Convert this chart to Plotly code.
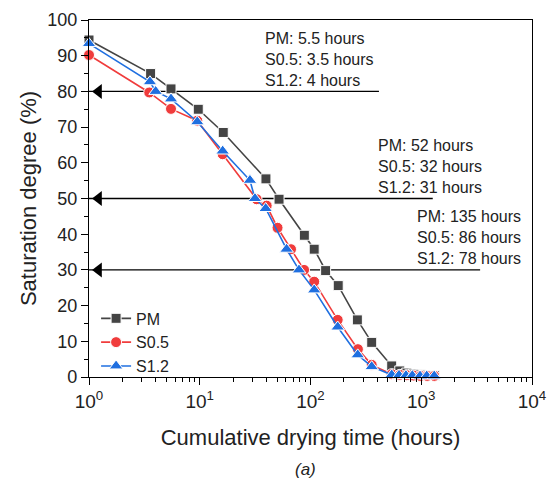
import plotly.graph_objects as go
import math

# ---- data ----
pm_x = [1, 3.6, 5.5, 9.7, 16.3, 39.6, 52, 88, 108, 137, 178, 265, 357, 541, 640, 740, 850, 980, 1130, 1310]
pm_y = [94.4, 85, 80.7, 75, 68.5, 55.5, 49.8, 39.7, 35.8, 29.8, 25.6, 16, 9.7, 3.1, 1.7, 1.1, 0.8, 0.6, 0.5, 0.4]

s05_x = [1, 3.5, 5.5, 9.5, 16.1, 32.6, 40.2, 50.4, 66.7, 87.5, 108, 176, 268, 357, 541, 640, 740, 850, 980, 1130, 1310]
s05_y = [90.2, 79.7, 75.1, 71.8, 62.4, 49.8, 48, 41.8, 35.8, 30, 26.7, 16, 7.8, 3.4, 0.8, 0.6, 0.5, 0.4, 0.3, 0.3, 0.3]

s12_x = [1, 3.55, 4, 5.5, 9.5, 16.1, 28.4, 31.5, 39.4, 60.8, 78.7, 108, 176, 267, 357, 541, 630, 728, 830, 975, 1120, 1310]
s12_y = [93.4, 82.7, 80, 77.9, 71.5, 63.3, 55.1, 50, 47.2, 35.8, 30, 24.4, 14, 6.2, 2.9, 0.6, 0.5, 0.4, 0.4, 0.3, 0.3, 0.3]

series_names = ["PM", "S0.5", "S1.2"]

# horizontal reference arrows (saturation level, right end in hours)
arrow_levels = [80, 50, 30]
arrow_ends = [415, 1270, 3400]
arrow_tip_x = 1.22

# annotation blocks: left edge (hours) and text lines
block_x = [37.2, 390, 880]
block_lines = [
    ["PM: 5.5 hours", "S0.5: 3.5 hours", "S1.2: 4 hours"],
    ["PM: 52 hours", "S0.5: 32 hours", "S1.2: 31 hours"],
    ["PM: 135 hours", "S0.5: 86 hours", "S1.2: 78 hours"],
]

x_tickvals = [1, 10, 100, 1000, 10000]
x_ticktext = ["10<sup>0</sup>", "10<sup>1</sup>", "10<sup>2</sup>", "10<sup>3</sup>", "10<sup>4</sup>"]

FONT = "Liberation Sans, Arial, sans-serif"
colors = ["#444444", "#F03C3C", "#1F6FE0"]
symbols = ["square", "circle", "triangle-up"]
sizes = [10, 11, 12]

fig = go.Figure()

# arrow lines
for lvl, end in zip(arrow_levels, arrow_ends):
    fig.add_trace(go.Scatter(x=[1, end], y=[lvl, lvl], mode="lines",
                             line=dict(color="black", width=1.3),
                             showlegend=False, hoverinfo="skip", cliponaxis=False))
    fig.add_trace(go.Scatter(x=[arrow_tip_x], y=[lvl], mode="markers",
                             marker=dict(symbol="triangle-left", size=13, color="black"),
                             showlegend=False, hoverinfo="skip"))

for name, xs, ys, c, s, sz in zip(series_names, [pm_x, s05_x, s12_x], [pm_y, s05_y, s12_y], colors, symbols, sizes):
    fig.add_trace(go.Scatter(x=xs, y=ys, mode="lines+markers", name=name,
                             line=dict(color=c, width=1.6), cliponaxis=False,
                             marker=dict(symbol=s, size=sz, color=c,
                                         line=dict(color="white", width=1))))

annotations = []
shifts = [53, 32, 11]
for bx, lines, lvl in zip(block_x, block_lines, arrow_levels):
    for txt, sh in zip(lines, shifts):
        annotations.append(dict(x=math.log10(bx), y=lvl, xref="x", yref="y",
                                text=txt, showarrow=False, xanchor="left",
                                yanchor="middle", yshift=sh,
                                font=dict(family=FONT, size=16, color="#222222")))
annotations.append(dict(x=0.488, y=-0.26, xref="paper", yref="paper", text="<i>(a)</i>",
                        showarrow=False, yanchor="middle",
                        font=dict(family=FONT, size=17, color="#222222")))

fig.update_layout(
    width=548, height=495,
    margin=dict(l=89, r=16, t=20, b=118, autoexpand=False),
    paper_bgcolor="white", plot_bgcolor="white",
    font=dict(family=FONT, color="#222222"),
    annotations=annotations,
    legend=dict(x=0.016, y=-0.018, xanchor="left", yanchor="bottom",
                font=dict(family=FONT, size=16, color="#222222"),
                bgcolor="rgba(0,0,0,0)", tracegroupgap=0, itemwidth=30),
)
fig.update_xaxes(type="log", range=[0, 4], tickvals=x_tickvals, ticktext=x_ticktext,
                 automargin=False,
                 showline=True, linecolor="black", linewidth=1.3, mirror=True,
                 ticks="outside", ticklen=7, tickwidth=1.3, tickcolor="black",
                 minor=dict(ticks="outside", ticklen=4, tickwidth=1, tickcolor="black", dtick="D1"),
                 showgrid=False, zeroline=False,
                 tickfont=dict(family=FONT, size=19, color="#222222"),
                 title=dict(text="Cumulative drying time (hours)", standoff=18,
                            font=dict(family=FONT, size=22, color="#222222")))
fig.update_yaxes(range=[0, 100], dtick=10, automargin=False,
                 showline=True, linecolor="black", linewidth=1.3, mirror=True,
                 ticks="outside", ticklen=7, tickwidth=1.3, tickcolor="black",
                 minor=dict(ticks="outside", ticklen=4, tickwidth=1, tickcolor="black", dtick=5),
                 showgrid=False, zeroline=False,
                 tickfont=dict(family=FONT, size=18, color="#222222"),
                 title=dict(text="Saturation degree (%)", standoff=4,
                            font=dict(family=FONT, size=22, color="#222222")))

fig.write_html("out.html", config={"displayModeBar": False},
               post_script="document.body.style.margin='0';document.body.style.overflow='hidden';")
